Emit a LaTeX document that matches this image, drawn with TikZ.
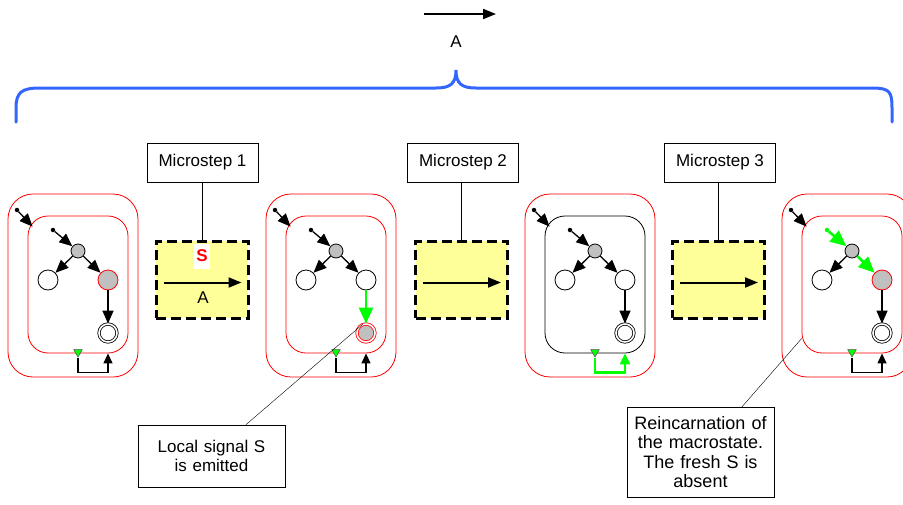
\documentclass[tikz,border=0pt]{standalone}
\usepackage{fontspec}
\setmainfont{Liberation Sans}
\usepackage{tikz}
\usetikzlibrary{arrows.meta,positioning,calc,shapes.geometric}
\definecolor{glow}{HTML}{00FF00}
\definecolor{braceblue}{HTML}{3366FF}
\definecolor{padyellow}{HTML}{FFFF99}
\definecolor{hotgray}{HTML}{C0C0C0}

\begin{document}
\begin{tikzpicture}[x=1pt, y=-1pt,
  every node/.style={font=\fontsize{17}{18.5}\selectfont},
  msbox/.style={draw, fill=white, inner sep=0pt, minimum width=111pt, minimum height=39pt},
  note/.style={draw, fill=white, align=center, text width=135pt, inner xsep=6pt},
  padbox/.style={draw, fill=padyellow, line width=3pt, dash pattern=on 10pt off 5pt,
                 minimum width=92pt, minimum height=77pt},
  shell/.style={draw=red, rounded corners=25pt, line width=0.8pt,
                minimum width=130pt, minimum height=183pt},
  box/.style={rounded corners=20pt, line width=0.8pt, minimum width=100pt, minimum height=137pt},
  st/.style={circle, draw, line width=0.8pt, inner sep=0pt, minimum size=20pt, fill=white},
  hub/.style={st, minimum size=14pt, fill=hotgray},
  cold/.style={st},
  hot/.style={st, draw=red, fill=hotgray},
  fin/.style={st, minimum size=18pt, double, double distance=1.6pt},
  hotfin/.style={fin, draw=red, fill=hotgray},
  dot/.style={circle, fill, inner sep=0pt, minimum size=4.5pt},
  tri/.style={regular polygon, regular polygon sides=3, shape border rotate=180,
              fill=glow, draw=black!70, line width=0.5pt, inner sep=0pt, minimum size=10pt},
  calm/.style={-{Triangle[length=13pt,width=11pt]}, line width=1.3pt},
  lit/.style={-{Triangle[length=16pt,width=14pt]}, line width=2.6pt, draw=glow},
  back/.style={-{Triangle[length=10pt,width=9pt]}, line width=1.3pt},
  litback/.style={-{Triangle[length=11pt,width=10pt]}, line width=2.6pt, draw=glow},
  big/.style={-{Triangle[length=13pt,width=10pt]}, line width=2pt}]

  \useasboundingbox (0,0) rectangle (903,504);

  \coordinate (a0) at (424,14);
  \coordinate (a1) at (496,14);
  \draw[big] (a0) -- (a1);
  \node (whole) at (456,42) {A};

  \draw[braceblue, line width=3pt, line cap=round]
    (16,122) -- (16,108) .. controls (16,92) and (22,88) .. (40,88) -- (436,88)
    .. controls (450,88) and (456,84) .. (456,70)
    .. controls (456,84) and (462,88) .. (476,88) -- (872,88)
    .. controls (890,88) and (892,92) .. (892,108) -- (892,122);

  \foreach \k/\mx/\px in {1/202.5/202, 2/463/461.5, 3/720/718.5} {
    \node[msbox] (ms\k) at (\mx,162.5) {Microstep \k};
    \node[padbox] (pad\k) at (\px,279.5) {};
    \draw (pad\k.north) -- (pad\k.north |- ms\k.south);
    \draw[big] ($(pad\k.west)+(9,3)$) -- ($(pad\k.east)+(-8,3)$);
  }
  \node[fill=white, text=red, font=\fontsize{17}{18.5}\selectfont\bfseries, inner sep=0pt,
        minimum width=16pt, minimum height=25pt] (sig) at (202,256) {S};
  \node (act) at (203,298) {A};

  \foreach \i/\dx/\inc/\ac/\acol/\rs/\bc/\fs/\fc in
    {1/0/red/calm/black/hot/calm/fin/back,
     2/258/red/calm/black/cold/lit/hotfin/back,
     3/517/black/calm/black/cold/calm/fin/litback,
     4/774/red/lit/glow/hot/calm/fin/back} {
    \begin{scope}[xshift=\dx pt]
      \node[shell] (out\i) at (73,285.5) {};
      \node[box, draw=\inc] (in\i) at (78,284.5) {};
      \node[dot] (odot\i) at (17,210) {};
      \node[dot, fill=\acol] (idot\i) at (53,230) {};
      \node[hub] (g\i) at (78,251) {};
      \node[cold] (L\i) at (48,280) {};
      \node[\rs] (R\i) at (108,280) {};
      \node[\fs] (F\i) at (108,333) {};
      \node[tri] (t\i) at (78,352) {};
    \end{scope}
    \draw[calm] (odot\i) -- ($(in\i.north west)+(5,11)$);
    \draw[\ac] (idot\i) -- (g\i);
    \draw[calm] (g\i) -- (L\i);
    \draw[\ac] (g\i) -- (R\i);
    \draw[\bc] (R\i) -- (F\i);
    \draw[\fc] (t\i.south) -- ++(0,15) -| (F\i |- in\i.south);
  }

  \node[note, minimum height=62pt] (emit) at (211.5,456) {Local signal S\\is emitted};
  \node[note, anchor=north, inner ysep=9pt, font=\fontsize{18}{19.5}\selectfont] (fresh)
    at (700.5,407) {Reincarnation of\\the macrostate.\\The fresh S is\\absent};
  \draw (F2.110) -- ($(emit.north west)+(108,0)$);
  \draw (in4.227) -- ($(fresh.north west)+(115,0)$);
\end{tikzpicture}
\end{document}
